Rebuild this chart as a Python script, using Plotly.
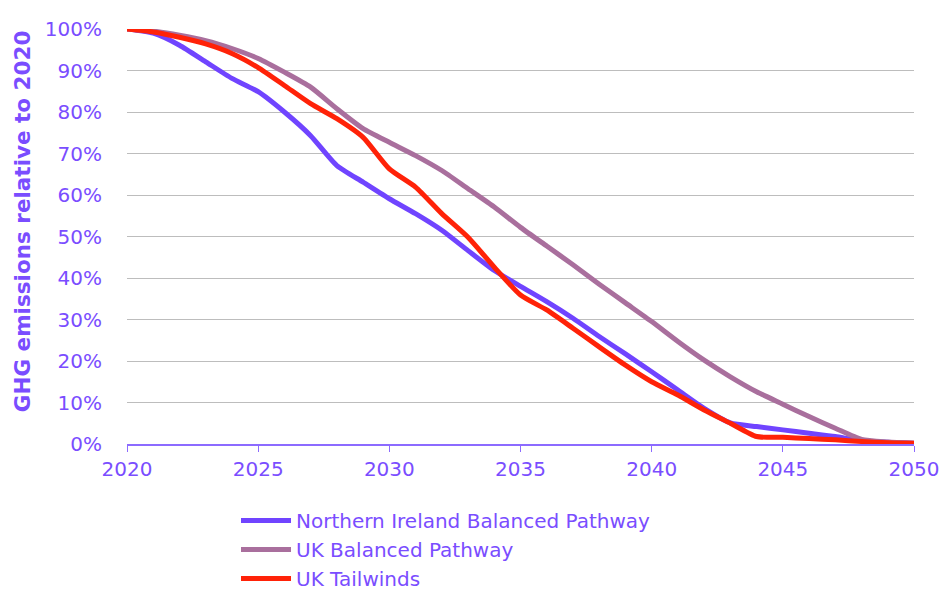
import plotly.graph_objects as go

years = list(range(2020, 2051))

ni_balanced = [100, 99, 96.1, 92.1, 88.1, 84.9, 80, 74.3, 67.1, 63.1, 59.1,
               55.5, 51.5, 46.6, 41.8, 38, 34.3, 30.3, 25.9, 21.7, 17.4,
               13, 8.6, 5.1, 4.2, 3.4, 2.6, 1.8, 0.8, 0.4, 0.2]
uk_balanced = [100, 99.5, 98.5, 97.2, 95.3, 92.9, 89.6, 86, 80.8, 76, 72.7,
               69.5, 65.9, 61.5, 57.1, 52.2, 47.7, 43.2, 38.5, 34, 29.5,
               24.7, 20.2, 16.2, 12.6, 9.6, 6.6, 3.8, 1.1, 0.5, 0.2]
uk_tailwinds = [100, 99.3, 98, 96.4, 94.1, 90.7, 86.4, 82, 78.4, 73.9, 66.3,
                61.9, 55.5, 49.8, 42.6, 35.9, 32.3, 27.9, 23.4, 19, 15,
                11.8, 8.2, 5, 1.8, 1.6, 1.3, 1.0, 0.6, 0.3, 0.2]

txt = "#7A4DFF"
fnt = "DejaVu Sans, sans-serif"

fig = go.Figure()
fig.add_trace(go.Scatter(x=years, y=[v / 100 for v in ni_balanced], mode="lines",
                         name="Northern Ireland Balanced Pathway",
                         line=dict(color="#7044FF", width=5, shape="spline", smoothing=0.6)))
fig.add_trace(go.Scatter(x=years, y=[v / 100 for v in uk_balanced], mode="lines",
                         name="UK Balanced Pathway",
                         line=dict(color="#A96F9D", width=5, shape="spline", smoothing=0.6)))
fig.add_trace(go.Scatter(x=years, y=[v / 100 for v in uk_tailwinds], mode="lines",
                         name="UK Tailwinds",
                         line=dict(color="#FF2208", width=5, shape="spline", smoothing=0.6)))

fig.update_layout(
    width=941, height=590,
    margin=dict(l=127, r=27, t=29, b=146, autoexpand=False),
    paper_bgcolor="white", plot_bgcolor="white",
    font=dict(family=fnt, color=txt, size=20),
    showlegend=True,
    legend=dict(xref="container", yref="container", x=0.2508, y=0.151,
                xanchor="left", yanchor="top",
                font=dict(size=20, color=txt, family=fnt), itemwidth=50,
                tracegroupgap=0, bgcolor="rgba(0,0,0,0)"),
)
fig.update_xaxes(range=[2020, 2050], tickvals=[2020, 2025, 2030, 2035, 2040, 2045, 2050],
                 showgrid=False, showline=True, linecolor="#8C6BFF", linewidth=1.5,
                 ticks="outside", ticklen=6, tickcolor="#8C6BFF",
                 tickfont=dict(size=20, color=txt), zeroline=False)
fig.update_yaxes(range=[0, 1], tickformat=".0%", dtick=0.1,
                 showgrid=True, gridcolor="#BDBDBD", gridwidth=1.2,
                 zeroline=False, ticks="", ticklabelstandoff=24,
                 tickfont=dict(size=20, color=txt))

fig.add_annotation(text="<b>GHG emissions relative to 2020</b>", textangle=-90,
                   xref="paper", yref="paper", x=-0.1334, y=0.537,
                   xanchor="center", yanchor="middle", showarrow=False,
                   font=dict(size=21.5, color=txt, family=fnt))

# drop the default 8px page margin so the figure fills the window
fig.write_html("out.html", config={"displayModeBar": False},
               post_script="document.body.style.margin='0px';")
